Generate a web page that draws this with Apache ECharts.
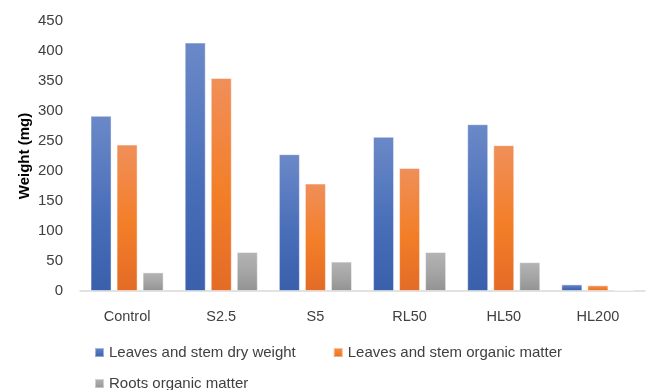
<!DOCTYPE html>
<html><head><meta charset="utf-8">
<script src="https://cdn.jsdelivr.net/npm/echarts@6/dist/echarts.min.js"></script>
<style>html,body{margin:0;padding:0;background:#fff}#c{width:649px;height:390px}</style>
</head><body><div id="c"></div>
<script>
const categories = ['Control','S2.5','S5','RL50','HL50','HL200'];
const seriesNames = ['Leaves and stem dry weight','Leaves and stem organic matter','Roots organic matter'];
const dryWeight = [292, 414, 228, 257, 278, 11];
const leafOrganic = [244, 355, 179, 205, 243, 9.5];
const rootOrganic = [31, 65, 49, 65, 48, 1.5];
const yTicks = {min:0, max:450, interval:50};

const FONT = '"Liberation Sans", Arial, sans-serif';
function grad(top, mid, bot){
  return new echarts.graphic.LinearGradient(0,0,0,1,[{offset:0,color:top},{offset:0.55,color:mid},{offset:1,color:bot}]);
}
const styles = [
  {legend:'#4472c4', fill:grad('#6b89c8','#4a6fb9','#3a5fab')},
  {legend:'#ed7d31', fill:grad('#f08f5a','#f37e27','#e36b27')},
  {legend:'#a5a5a5', fill:grad('#b4b4b4','#a4a4a4','#929292')}
];
const data = [dryWeight, leafOrganic, rootOrganic];
const chart = echarts.init(document.getElementById('c'), null, {renderer:'canvas'});
chart.setOption({
  animation:false,
  grid:{left:80, right:4, top:21, bottom:99},
  legend:[
    {data:[seriesNames[0], seriesNames[1]], left:89, top:340, itemWidth:9, itemHeight:9, itemGap:37, icon:'rect',
     textStyle:{color:'#404040', fontSize:15, fontFamily:FONT}},
    {data:[seriesNames[2]], left:89, top:371, itemWidth:9, itemHeight:9, icon:'rect',
     textStyle:{color:'#404040', fontSize:15, fontFamily:FONT}}
  ],
  xAxis:{type:'category', data:categories,
    axisLine:{lineStyle:{color:'#d9d9d9', width:1.5}}, axisTick:{show:false},
    axisLabel:{color:'#404040', fontSize:14.5, fontFamily:FONT, margin:18}},
  yAxis:{type:'value', min:yTicks.min, max:yTicks.max, interval:yTicks.interval,
    name:'Weight (mg)', nameLocation:'middle', nameGap:48, nameMoveOverlap:false,
    nameTextStyle:{color:'#000', fontSize:15, fontWeight:'bold', fontFamily:FONT},
    splitLine:{show:false}, axisLine:{show:false}, axisTick:{show:false},
    axisLabel:{color:'#404040', fontSize:15, fontFamily:FONT, margin:17}},
  series: data.map((d,i)=>({
    name:seriesNames[i], type:'bar', data:d, barWidth:21, barGap:'24%',
    color:styles[i].legend,
    itemStyle:{color:styles[i].fill, borderColor:'rgba(255,255,255,0.45)', borderWidth:1}
  }))
});
</script></body></html>
